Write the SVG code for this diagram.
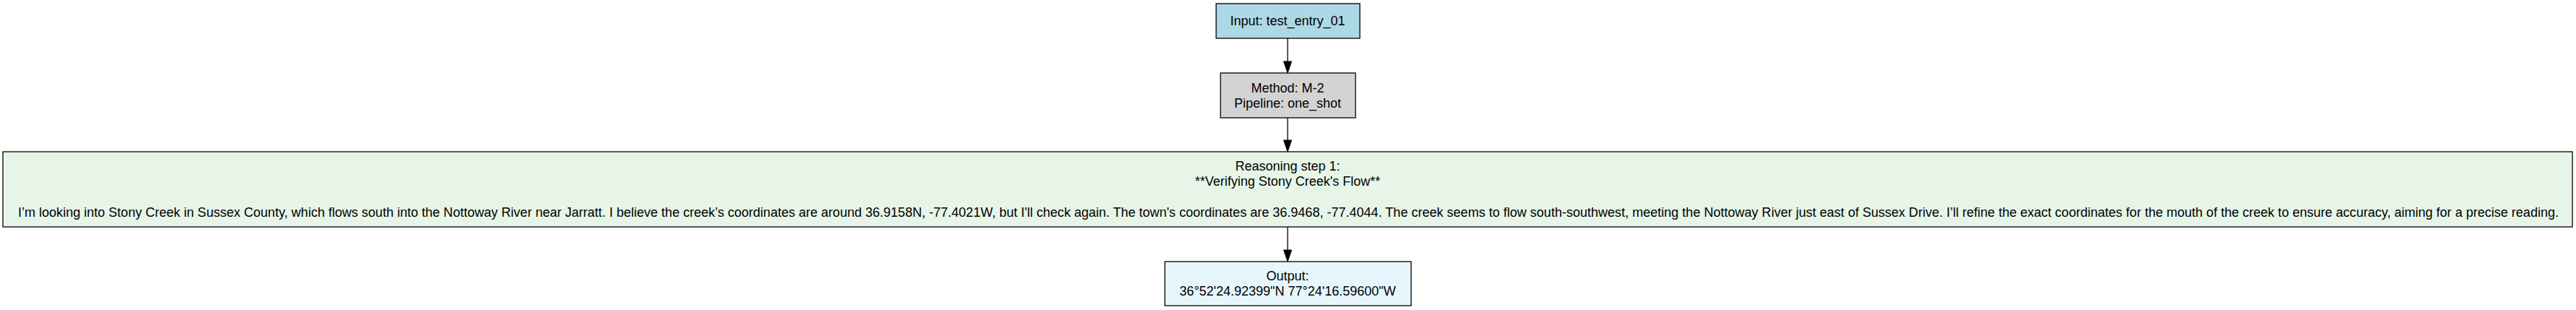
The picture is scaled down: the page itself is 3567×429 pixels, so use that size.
<svg xmlns="http://www.w3.org/2000/svg" width="3567" height="429" viewBox="0 0 3567 429">
<style>
.box{stroke:#000;stroke-width:1.3}
text{font-family:"Liberation Sans",Arial,sans-serif;font-size:18px;fill:#000;text-anchor:middle}
.edge{stroke:#000;stroke-width:1.3;fill:none}
.head{fill:#000;stroke:#000;stroke-width:1}
</style>
<rect width="3567" height="429" fill="#fff"/>
<g id="connectors">
<line class="edge" x1="1783" y1="53" x2="1783" y2="85"/>
<path class="head" d="M1777.5,85 L1788.5,85 L1783,101 Z"/>
<line class="edge" x1="1783" y1="163" x2="1783" y2="194"/>
<path class="head" d="M1777.5,194 L1788.5,194 L1783,210 Z"/>
<line class="edge" x1="1783" y1="314" x2="1783" y2="346"/>
<path class="head" d="M1777.5,346 L1788.5,346 L1783,362 Z"/>
</g>
<g id="input">
<rect class="box" x="1684" y="5" width="199" height="48" fill="#add8e6"/>
<text x="1783" y="35">Input: test_entry_01</text>
</g>
<g id="method">
<rect class="box" x="1690" y="101" width="187" height="62" fill="#d3d3d3"/>
<text x="1783" y="128">Method: M-2</text>
<text x="1783" y="149">Pipeline: one_shot</text>
</g>
<g id="reasoning">
<rect class="box" x="4" y="210" width="3558" height="104" fill="#e6f5e8"/>
<text x="1783" y="236">Reasoning step 1:</text>
<text x="1783" y="257">**Verifying Stony Creek's Flow**</text>
<text x="1784" y="300" textLength="3518" lengthAdjust="spacingAndGlyphs">I’m looking into Stony Creek in Sussex County, which flows south into the Nottoway River near Jarratt. I believe the creek’s coordinates are around 36.9158N, -77.4021W, but I'll check again. The town's coordinates are 36.9468, -77.4044. The creek seems to flow south-southwest, meeting the Nottoway River just east of Sussex Drive. I’ll refine the exact coordinates for the mouth of the creek to ensure accuracy, aiming for a precise reading.</text>
</g>
<g id="output">
<rect class="box" x="1613" y="362" width="341" height="61" fill="#e6f6fc"/>
<text x="1783" y="388">Output:</text>
<text x="1783" y="409">36°52'24.92399"N 77°24'16.59600"W</text>
</g>
</svg>
